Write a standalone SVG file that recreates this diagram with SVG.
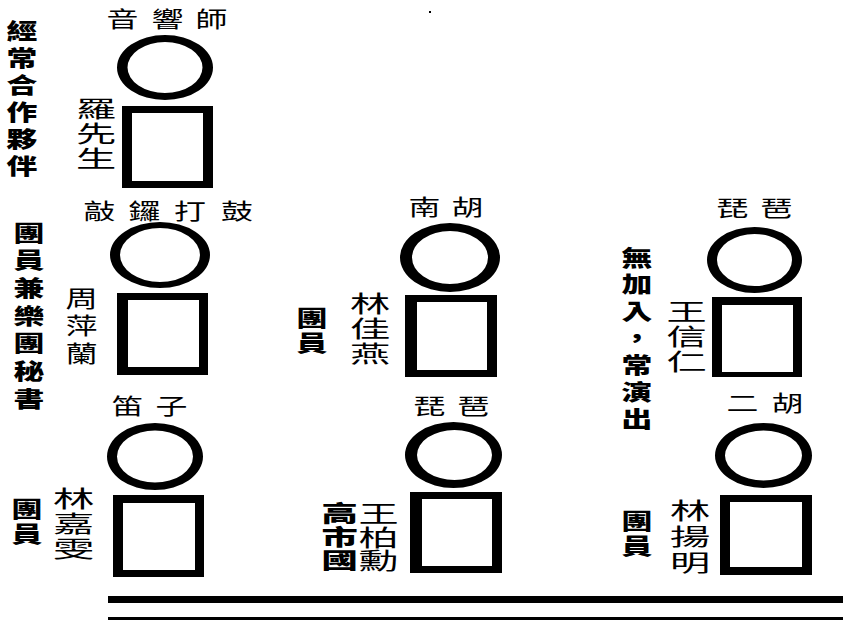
<svg xmlns="http://www.w3.org/2000/svg" width="843" height="620" viewBox="0 0 843 620">
<style>
  .t { font-family: "Noto Sans CJK TC", "Noto Sans CJK SC", sans-serif; fill: #000; }
  .lbl { font-size: 22px; font-weight: 400; }
  .nm { font-size: 23px; font-weight: 400; }
  .note { font-size: 22px; font-weight: 900; }
  .shape { fill: #000; fill-rule: evenodd; }
  .rule { fill: #000; }
</style>
<rect width="843" height="620" fill="#fff"/>
<rect x="429" y="11" width="2" height="2" fill="#000"/>

<g id="node-sound">
  <text class="t lbl" transform="matrix(1.45 0 0 1 106.5 26.5)" x="0 31 61.4">音響師</text>
  <path class="shape" d="M117 67.5 a48 32.5 0 1 0 96 0 a48 32.5 0 1 0 -96 0 Z M127.5 67.5 a37.5 25.5 0 1 0 75 0 a37.5 25.5 0 1 0 -75 0 Z"/>
  <path class="shape" d="M122 106 H213 V188 H122 Z M132 113 V181 H203 V113 Z"/>
  <text class="t nm" transform="matrix(1.75 0 0 1 76 117)"><tspan x="0" y="0">羅</tspan><tspan x="0" y="25">先</tspan><tspan x="0" y="50">生</tspan></text>
  <text class="t note" transform="matrix(1.4 0 0 1 6.5 39)"><tspan x="0" y="0">經</tspan><tspan x="0" y="27">常</tspan><tspan x="0" y="54">合</tspan><tspan x="0" y="81">作</tspan><tspan x="0" y="108">夥</tspan><tspan x="0" y="135">伴</tspan></text>
</g>

<g id="node-drums">
  <text class="t lbl" transform="matrix(1.45 0 0 1 83.5 218.5)" x="0 31 62.4 94.8">敲鑼打鼓</text>
  <path class="shape" d="M110 255 a50 33 0 1 0 100 0 a50 33 0 1 0 -100 0 Z M120 255 a40 27 0 1 0 80 0 a40 27 0 1 0 -80 0 Z"/>
  <path class="shape" d="M117 293 H208 V375 H117 Z M128 300 V367 H199 V300 Z"/>
  <text class="t nm" transform="matrix(1.4 0 0 1 65.5 307)"><tspan x="0" y="0">周</tspan><tspan x="0" y="27.5">萍</tspan><tspan x="0" y="55">蘭</tspan></text>
  <text class="t note" transform="matrix(1.4 0 0 1 13.5 240.5)"><tspan x="0" y="0">團</tspan><tspan x="0" y="27.7">員</tspan><tspan x="0" y="55.4">兼</tspan><tspan x="0" y="83.1">樂</tspan><tspan x="0" y="110.8">團</tspan><tspan x="0" y="138.5">秘</tspan><tspan x="0" y="166.2">書</tspan></text>
</g>

<g id="node-flute">
  <text class="t lbl" transform="matrix(1.45 0 0 1 111.5 413.5)" x="0 30.3">笛子</text>
  <path class="shape" d="M107 456.5 a48 33.5 0 1 0 96 0 a48 33.5 0 1 0 -96 0 Z M117 456.5 a38 26 0 1 0 76 0 a38 26 0 1 0 -76 0 Z"/>
  <path class="shape" d="M113 495 H204 V577 H113 Z M123 503 V570 H195 V503 Z"/>
  <text class="t nm" transform="matrix(1.8 0 0 1 53 507)"><tspan x="0" y="0">林</tspan><tspan x="0" y="25">嘉</tspan><tspan x="0" y="50">雯</tspan></text>
  <text class="t note" transform="matrix(1.4 0 0 1 11.5 516.5)"><tspan x="0" y="0">團</tspan><tspan x="0" y="26">員</tspan></text>
</g>

<g id="node-nanhu">
  <text class="t lbl" transform="matrix(1.45 0 0 1 408.5 214.5)" x="0 29.7">南胡</text>
  <path class="shape" d="M400 257.5 a50 34.5 0 1 0 100 0 a50 34.5 0 1 0 -100 0 Z M412 257.5 a38 26.5 0 1 0 76 0 a38 26.5 0 1 0 -76 0 Z"/>
  <path class="shape" d="M405 295 H497 V377 H405 Z M417 302 V370 H487 V302 Z"/>
  <text class="t nm" transform="matrix(1.75 0 0 1 350 312)"><tspan x="0" y="0">林</tspan><tspan x="0" y="25">佳</tspan><tspan x="0" y="50">燕</tspan></text>
  <text class="t note" transform="matrix(1.4 0 0 1 296.5 325.5)"><tspan x="0" y="0">團</tspan><tspan x="0" y="25">員</tspan></text>
</g>

<g id="node-pipa-mid">
  <text class="t lbl" transform="matrix(1.45 0 0 1 413.5 413.5)" x="0 30.3">琵琶</text>
  <path class="shape" d="M405 455 a48.5 33 0 1 0 97 0 a48.5 33 0 1 0 -97 0 Z M417 455 a37.5 25 0 1 0 75 0 a37.5 25 0 1 0 -75 0 Z"/>
  <path class="shape" d="M410 492 H502 V573 H410 Z M422 499 V566 H492 V499 Z"/>
  <text class="t nm" transform="matrix(1.75 0 0 1 358.5 522)"><tspan x="0" y="0">王</tspan><tspan x="0" y="23.5">柏</tspan><tspan x="0" y="47">勳</tspan></text>
  <text class="t note" transform="matrix(1.65 0 0 1 321.5 520.5)"><tspan x="0" y="0">高</tspan><tspan x="0" y="24">市</tspan><tspan x="0" y="48">國</tspan></text>
</g>

<g id="node-pipa-right">
  <text class="t lbl" transform="matrix(1.45 0 0 1 716.5 215.5)" x="0 30.3">琵琶</text>
  <path class="shape" d="M707 260 a47.5 33 0 1 0 95 0 a47.5 33 0 1 0 -95 0 Z M717 260 a37.5 26 0 1 0 75 0 a37.5 26 0 1 0 -75 0 Z"/>
  <path class="shape" d="M712 297 H802 V377 H712 Z M722 305 V372 H793 V305 Z"/>
  <text class="t nm" transform="matrix(1.75 0 0 1 666.5 320)"><tspan x="0" y="0">王</tspan><tspan x="0" y="25">信</tspan><tspan x="0" y="50">仁</tspan></text>
  <text class="t note" transform="matrix(1.4 0 0 1 621.5 265.5)"><tspan x="0" y="0">無</tspan><tspan x="0" y="27">加</tspan><tspan x="0" y="54">入</tspan><tspan x="0" y="81">，</tspan><tspan x="0" y="108">常</tspan><tspan x="0" y="135">演</tspan><tspan x="0" y="162">出</tspan></text>
</g>

<g id="node-erhu">
  <text class="t lbl" transform="matrix(1.45 0 0 1 726.5 411)" x="0 31">二胡</text>
  <path class="shape" d="M715 455.5 a48.5 32.5 0 1 0 97 0 a48.5 32.5 0 1 0 -97 0 Z M725 455.5 a38.5 25 0 1 0 77 0 a38.5 25 0 1 0 -77 0 Z"/>
  <path class="shape" d="M720 495 H812 V575 H720 Z M730 502 V567 H802 V502 Z"/>
  <text class="t nm" transform="matrix(1.75 0 0 1 670 519)"><tspan x="0" y="0">林</tspan><tspan x="0" y="26">揚</tspan><tspan x="0" y="52">明</tspan></text>
  <text class="t note" transform="matrix(1.4 0 0 1 621.5 528.5)"><tspan x="0" y="0">團</tspan><tspan x="0" y="25">員</tspan></text>
</g>

<g id="connectors">
  <rect class="rule" x="108" y="596" width="735" height="7"/>
  <rect class="rule" x="108" y="617" width="735" height="4"/>
</g>
</svg>
